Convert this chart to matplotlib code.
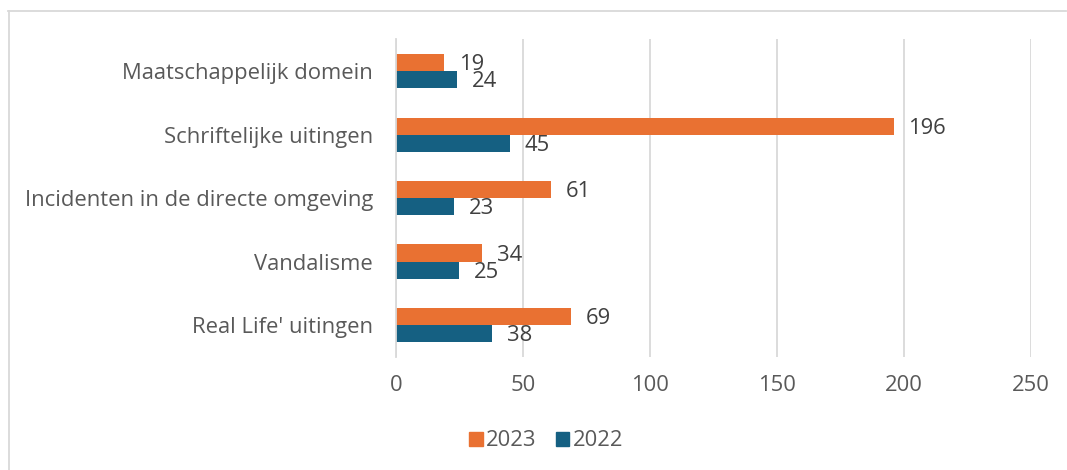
import matplotlib
matplotlib.use("Agg")
import matplotlib.pyplot as plt
import numpy as np
from matplotlib.lines import Line2D
from matplotlib.patches import Patch

categories = ["Maatschappelijk domein", "Schriftelijke uitingen",
              "Incidenten in de directe omgeving", "Vandalisme",
              "Real Life' uitingen"]
values_2023 = [19, 196, 61, 34, 69]
values_2022 = [24, 45, 23, 25, 38]
series_labels = ["2023", "2022"]
xticks = [0, 50, 100, 150, 200, 250]

c2023 = "#E97132"
c2022 = "#156082"
FONT = "Open Sans"
FS = 15.8
plt.rcParams['font.family'] = [FONT, 'DejaVu Sans']

fig = plt.figure(figsize=(10.67, 4.70), dpi=100)
ax = fig.add_axes([0.371, 0.241, 0.595, 0.675])

n = len(categories)
y = np.arange(n)
h = 0.27
b1 = ax.barh(y - h/2, values_2023, height=h, color=c2023, label=series_labels[0], zorder=3)
b2 = ax.barh(y + h/2, values_2022, height=h, color=c2022, label=series_labels[1], zorder=3)

for bars, vals in ((b1, values_2023), (b2, values_2022)):
    for rect, v in zip(bars, vals):
        ax.annotate(str(v), (rect.get_width(), rect.get_y() + rect.get_height()/2),
                    xytext=(10.5, -1.5), textcoords="offset points", va="center", ha="left",
                    fontsize=FS, color="#404040")

ax.set_ylim(n - 0.5, -0.5)
ax.set_xlim(0, 250)
ax.set_xticks(xticks)
ax.set_xticklabels([str(t) for t in xticks])
ax.set_yticks(y)
ax.set_yticklabels(categories)
ax.tick_params(axis='y', length=0, pad=16.5, labelsize=FS, labelcolor="#595959")
ax.tick_params(axis='x', length=0, pad=13, labelsize=FS, labelcolor="#595959")
ax.grid(axis='x', color="#D9D9D9", linewidth=1.3, zorder=0)
for s in ["top", "right", "bottom"]:
    ax.spines[s].set_visible(False)
ax.spines["left"].set_color("#D9D9D9")
ax.spines["left"].set_linewidth(1.3)
ax.spines["left"].set_zorder(4)

handles = [Patch(color=c2023), Patch(color=c2022)]
fig.legend(handles, series_labels, loc="center", bbox_to_anchor=(0.512, 0.062), ncol=2,
           frameon=False, fontsize=FS, labelcolor="#595959", handlelength=0.6,
           handleheight=0.6, handletextpad=0.15, columnspacing=0.9)

# outer chart border (top and left visible)
fig.add_artist(Line2D([8/1067, 1066/1067], [1-10.5/470, 1-10.5/470], color="#D9D9D9", linewidth=1.3))
fig.add_artist(Line2D([8.5/1067, 8.5/1067], [0, 1-10.5/470], color="#D9D9D9", linewidth=1.3))

fig.savefig("out.png", dpi=100)
